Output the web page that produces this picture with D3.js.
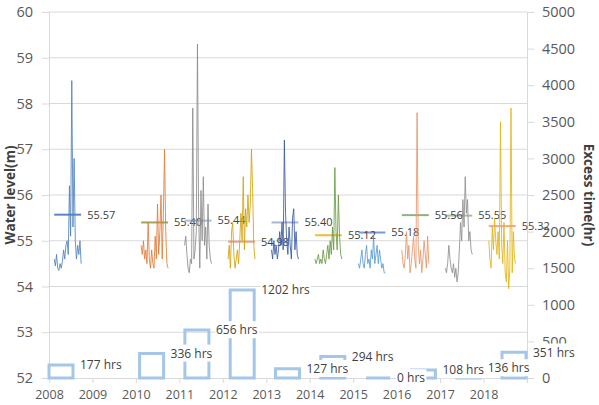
<!DOCTYPE html>
<html>
<head>
<meta charset="utf-8">
<script src="https://cdn.jsdelivr.net/npm/d3@7"></script>
<style>
  body { margin: 0; background: #fff; }
  text { font-family: "Open Sans", sans-serif; }
</style>
</head>
<body>
<svg id="chart" width="599" height="405"></svg>
<script>
const svg = d3.select("#chart");

/* seasons shown, mean level and excess hours per season */
const years = [2008, 2010, 2011, 2012, 2013, 2014, 2015, 2016, 2017, 2018];
const meanLevel = [55.57, 55.40, 55.44, 54.98, 55.40, 55.12, 55.18, 55.56, 55.55, 55.32];
const excessHours = [177, 336, 656, 1202, 127, 294, 0, 108, 136, 351];

/* water level readings, evenly spaced over each season */
const seasonStart = 0.12, seasonEnd = 0.74;
const wl2008 = [54.60, 54.45, 54.70, 54.40, 54.35, 54.50, 54.40, 54.55, 54.80, 54.60, 54.90, 55.00, 54.70, 56.20, 55.10, 58.50, 55.30, 56.80, 55.00, 54.60, 54.90, 54.70, 55.00, 54.50];
const wl2010 = [54.90, 54.70, 55.00, 54.60, 54.80, 54.50, 55.40, 54.60, 54.40, 54.80, 54.50, 54.40, 55.10, 54.60, 55.80, 54.70, 55.20, 56.00, 54.60, 55.60, 57.00, 55.20, 54.50, 54.40];
const wl2011 = [54.90, 55.10, 54.70, 54.40, 54.30, 54.60, 54.50, 57.90, 54.60, 54.80, 55.20, 59.30, 55.60, 54.40, 56.10, 55.00, 56.40, 54.90, 55.30, 54.60, 55.80, 54.90, 54.60, 54.50];
const wl2012 = [54.60, 54.90, 54.40, 55.20, 55.40, 54.70, 54.40, 54.60, 54.80, 54.50, 55.00, 55.60, 55.00, 56.40, 54.80, 55.70, 55.30, 56.00, 55.40, 55.80, 57.00, 56.10, 54.90, 54.60];
const wl2013 = [54.80, 54.60, 55.00, 54.70, 54.90, 54.60, 54.80, 55.20, 54.90, 55.40, 54.80, 57.20, 55.60, 55.00, 54.70, 55.30, 54.90, 54.60, 55.50, 55.70, 54.80, 55.20, 54.70, 54.60];
const wl2014 = [54.60, 54.50, 54.60, 54.70, 54.50, 54.60, 54.50, 54.80, 54.60, 54.50, 54.70, 54.90, 54.60, 55.00, 54.70, 55.30, 54.80, 56.60, 55.20, 54.80, 56.00, 55.10, 54.70, 54.60];
const wl2015 = [54.50, 54.40, 54.60, 54.80, 54.50, 54.40, 54.70, 54.90, 54.50, 54.60, 54.40, 54.80, 54.60, 55.10, 54.50, 54.70, 54.90, 54.50, 54.80, 54.60, 54.40, 54.50, 54.30, 54.30];
const wl2016 = [54.80, 54.50, 54.40, 54.70, 55.20, 54.60, 54.90, 54.30, 54.50, 54.80, 55.10, 54.60, 54.40, 57.80, 54.90, 54.50, 54.80, 54.30, 54.60, 55.00, 54.70, 54.40, 55.10, 54.50];
const wl2017 = [54.40, 54.30, 54.50, 54.90, 54.60, 54.40, 54.30, 54.50, 54.20, 54.40, 54.10, 54.30, 54.80, 55.40, 55.00, 55.90, 55.30, 56.40, 55.60, 55.90, 55.00, 55.20, 54.80, 54.70];
const wl2018 = [55.00, 54.60, 54.40, 55.30, 54.80, 55.50, 55.00, 54.70, 55.20, 54.60, 57.60, 54.90, 54.50, 55.40, 54.30, 54.10, 55.00, 53.95, 54.40, 57.90, 54.30, 55.20, 54.60, 54.50];
const levelSeries = [wl2008, wl2010, wl2011, wl2012, wl2013, wl2014, wl2015, wl2016, wl2017, wl2018];

const leftTicks = [52, 53, 54, 55, 56, 57, 58, 59, 60];
const rightTicks = [0, 500, 1000, 1500, 2000, 2500, 3000, 3500, 4000, 4500, 5000];
const xTicks = [2008, 2009, 2010, 2011, 2012, 2013, 2014, 2015, 2016, 2017, 2018, 2019];

const lineColors = ['#4f81bd', '#e07b39', '#8c8c8c', '#d4a20a', '#3b5ba0', '#6a9a45', '#5b9bd5', '#e8956a', '#8f8f8f', '#e3b514'];
const meanColors = ['#5a86c5', '#a2a35c', '#a9bdd8', '#e9a27f', '#a7b6cc', '#efbe2e', '#7b9bd0', '#8db37c', '#a9c0a0', '#efa88f'];

const margin = {left: 49, right: 527, top: 12, bottom: 378};

const x = d3.scaleLinear().domain([2008, 2019]).range([margin.left, margin.right]);
// hours series sits on its own category slots
const xBar = d3.scaleLinear().domain([2008, 2018]).range([margin.left, 502]);
const barW = (xBar(2009) - xBar(2008)) * 0.53;
const yL = d3.scaleLinear().domain([52, 60]).range([margin.bottom, margin.top]);
const yR = d3.scaleLinear().domain([0, 5000]).range([margin.bottom, margin.top]);

// gridlines
svg.append("g").selectAll("line")
  .data(leftTicks.slice(1))
  .join("line")
  .attr("x1", margin.left).attr("x2", margin.right)
  .attr("y1", d => yL(d)).attr("y2", d => yL(d))
  .attr("stroke", "#d9d9d9");

const styleAxis = g => {
  g.selectAll(".domain").attr("stroke", "#d9d9d9");
  g.selectAll(".tick line").attr("stroke", "#d9d9d9");
  g.selectAll(".tick text").attr("fill", "#595959").attr("font-family", "Open Sans");
};

svg.append("g")
  .attr("transform", `translate(${margin.left},0)`)
  .call(d3.axisLeft(yL).tickValues(leftTicks).tickSize(7).tickSizeOuter(0).tickPadding(9))
  .call(styleAxis)
  .selectAll(".tick text").attr("font-size", 14.5);

svg.append("g")
  .attr("transform", `translate(${margin.right},0)`)
  .call(d3.axisRight(yR).tickValues(rightTicks).tickSize(7).tickSizeOuter(0).tickPadding(8)
    .tickFormat(d3.format("d")))
  .call(styleAxis)
  .selectAll(".tick text").attr("font-size", 14.5);

svg.append("g")
  .attr("transform", `translate(0,${margin.bottom})`)
  .call(d3.axisBottom(x).tickValues(xTicks).tickSize(5).tickSizeOuter(0).tickPadding(7)
    .tickFormat(d => d < 2019 ? d : ""))
  .call(styleAxis)
  .selectAll(".tick text").attr("font-size", 12.5);

// axis titles
const midY = (margin.top + margin.bottom) / 2;
svg.append("text")
  .attr("transform", `translate(15,${midY}) rotate(-90)`)
  .attr("text-anchor", "middle")
  .attr("font-size", 13.5).attr("font-weight", "bold").attr("fill", "#404040")
  .text("Water level(m)");

svg.append("text")
  .attr("transform", `translate(584,${midY}) rotate(90)`)
  .attr("text-anchor", "middle")
  .attr("font-size", 13.5).attr("font-weight", "bold").attr("fill", "#404040")
  .text("Excess time(hr)");

// excess hours: hollow bars
const bars = years.map((yr, i) => ({year: yr, hours: excessHours[i]}));

svg.append("g").selectAll("path")
  .data(bars)
  .join("path")
  .attr("d", d => {
    const x0 = xBar(d.year), x1 = x0 + barW;
    return `M${x0},${yR(0)}V${yR(d.hours)}H${x1}V${yR(0)}Z`;
  })
  .attr("fill", "none")
  .attr("stroke", "#a4c6e8")
  .attr("stroke-width", 3);

const barLabels = svg.append("g").selectAll("g")
  .data(bars)
  .join("g")
  .attr("transform", d => `translate(${xBar(d.year) + barW + 7},${yR(d.hours)})`);

barLabels.append("text")
  .attr("dy", "0.35em")
  .attr("font-size", 12)
  .attr("fill", "#404040")
  .text(d => `${d.hours} hrs`);

barLabels.each(function() {
  const g = d3.select(this);
  const b = g.select("text").node().getBBox();
  g.insert("rect", "text")
    .attr("x", b.x - 1).attr("y", b.y)
    .attr("width", b.width + 2).attr("height", b.height)
    .attr("fill", "#fff");
});

// season means
const means = years.map((yr, i) => ({year: yr, value: meanLevel[i], color: meanColors[i]}));

svg.append("g").selectAll("line")
  .data(means)
  .join("line")
  .attr("x1", d => x(d.year + seasonStart))
  .attr("x2", d => x(d.year + seasonEnd))
  .attr("y1", d => yL(d.value)).attr("y2", d => yL(d.value))
  .attr("stroke", d => d.color)
  .attr("stroke-width", 2);

svg.append("g").selectAll("text")
  .data(means)
  .join("text")
  .attr("x", d => x(d.year + seasonEnd) + 6)
  .attr("y", d => yL(d.value))
  .attr("dy", "0.35em")
  .attr("font-size", 11)
  .attr("fill", "#404040")
  .text(d => d.value.toFixed(2));

// water level lines
const line = d3.line()
  .x(d => x(d.t))
  .y(d => yL(d.v));

svg.append("g").selectAll("path")
  .data(levelSeries.map((vals, i) => vals.map((v, j) => ({
    t: years[i] + seasonStart + (seasonEnd - seasonStart) * j / (vals.length - 1),
    v: v
  }))))
  .join("path")
  .attr("d", line)
  .attr("fill", "none")
  .attr("stroke", (d, i) => lineColors[i])
  .attr("stroke-width", 1)
  .attr("stroke-opacity", 0.85);
</script>
</body>
</html>
